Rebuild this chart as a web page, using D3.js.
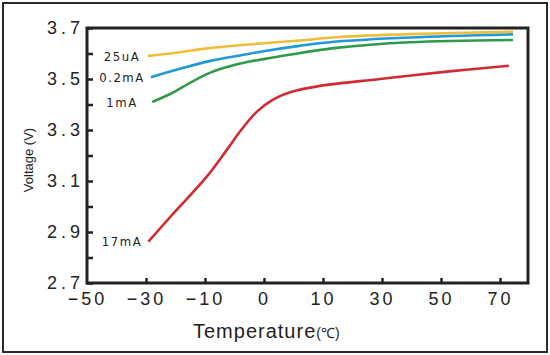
<!DOCTYPE html>
<html><head><meta charset="utf-8">
<script src="https://cdn.jsdelivr.net/npm/d3@7"></script>
<style>body{margin:0;background:#fff}svg{display:block}</style>
</head><body><svg id="c" width="550" height="355"></svg>
<script>
const xTicks = [-50, -30, -10, 0, 10, 30, 50, 70];
const yTicks = [2.7, 2.8, 2.9, 3.0, 3.1, 3.2, 3.3, 3.4, 3.5, 3.6, 3.7];
const yLabels = [2.7, 2.9, 3.1, 3.3, 3.5, 3.7];
const seriesNames = ["25uA", "0.2mA", "1mA", "17mA"];
const seriesColors = ["#f0bd3a", "#1f9ad6", "#2f9a47", "#d22a32"];
const t25uA = [-29.4, -19.1, -8.9, -0.1, 6, 14.5, 39.5, 74.4];
const v25uA = [3.590, 3.604, 3.622, 3.640, 3.651, 3.664, 3.676, 3.685];
const t02mA = [-28.3, -19.1, -8.9, -3.2, -0.1, 6, 14.5, 39.5, 74.4];
const v02mA = [3.507, 3.538, 3.572, 3.596, 3.609, 3.630, 3.647, 3.663, 3.675];
const t1mA = [-27.9, -21.3, -14.5, -8.9, -5.5, -3.2, -0.1, 4, 14.5, 39.5, 74.4];
const v1mA = [3.410, 3.444, 3.489, 3.527, 3.552, 3.565, 3.578, 3.594, 3.622, 3.644, 3.653];
const t17mA = [-29.2, -20.7, -9.7, -6.3, -4.1, -1.2, 1.6, 4.4, 9.5, 29.3, 51.9, 73];
const v17mA = [2.862, 2.973, 3.117, 3.222, 3.293, 3.372, 3.42, 3.448, 3.473, 3.5, 3.529, 3.552];

const seriesT = [t25uA, t02mA, t1mA, t17mA];
const seriesV = [v25uA, v02mA, v1mA, v17mA];

const L = 87, R = 528, T = 28, B = 283, step = 59;
const svg = d3.select("#c");
const x = d3.scaleLinear().domain(xTicks).range(xTicks.map((d, i) => L + i * step));
const y = d3.scaleLinear().domain([2.7, 3.7]).range([B, T]);

// outer border
svg.append("rect").attr("x", 3).attr("y", 3).attr("width", 544).attr("height", 349)
  .attr("fill", "#fff").attr("stroke", "#2a2a2a").attr("stroke-width", 2);

// ticks
const yAxis = d3.axisRight(y).tickValues(yTicks).tickSize(6).tickFormat("");
const gy = svg.append("g").attr("transform", `translate(${L},0)`).call(yAxis);
gy.select(".domain").remove();
gy.selectAll(".tick line").attr("stroke", "#222").attr("stroke-width", 2.5);

const xAxis = d3.axisTop(x).tickValues(xTicks.slice(1)).tickSize(5).tickFormat("");
const gx = svg.append("g").attr("transform", `translate(0,${B})`).call(xAxis);
gx.select(".domain").remove();
gx.selectAll(".tick line").attr("stroke", "#222").attr("stroke-width", 2.5);

// frame
svg.append("rect").attr("x", L).attr("y", T).attr("width", R - L).attr("height", B - T)
  .attr("fill", "none").attr("stroke", "#222").attr("stroke-width", 3);

// y labels
svg.append("g").selectAll("text").data(yLabels).join("text")
  .attr("x", 84).attr("y", d => y(d)).attr("dy", "0.35em")
  .attr("text-anchor", "end")
  .attr("font-family", "Liberation Sans, Arial, sans-serif").attr("font-size", 18)
  .attr("letter-spacing", 4).attr("fill", "#222")
  .text(d => d.toFixed(1));

// x labels
svg.append("g").selectAll("text").data(xTicks).join("text")
  .attr("x", d => x(d) + 0.5).attr("y", 299).attr("dy", "0.35em")
  .attr("text-anchor", "middle")
  .attr("font-family", "Liberation Sans, Arial, sans-serif").attr("font-size", 18)
  .attr("letter-spacing", 3).attr("fill", "#222")
  .text(d => d < 0 ? "\u2212" + Math.abs(d) : String(d));

// axis titles
const xt = svg.append("text").attr("x", 193).attr("y", 338)
  .attr("font-family", "Liberation Sans, Arial, sans-serif").attr("font-size", 20)
  .attr("letter-spacing", 1).attr("fill", "#222");
xt.append("tspan").text("Temperature");
xt.append("tspan").attr("font-size", 14).attr("letter-spacing", 0).text("(\u2103)");

svg.append("text").attr("transform", "translate(33,160) rotate(-90)")
  .attr("text-anchor", "middle")
  .attr("font-family", "Liberation Sans, Arial, sans-serif").attr("font-size", 13)
  .attr("fill", "#222").text("Voltage (V)");

// lines
const line = d3.line().x(d => x(d[0])).y(d => y(d[1])).curve(d3.curveCatmullRom.alpha(0.5));
seriesNames.forEach((name, i) => {
  const pts = seriesT[i].map((t, j) => [t, seriesV[i][j]]);
  svg.append("path").datum(pts).attr("d", line)
    .attr("fill", "none").attr("stroke", seriesColors[i]).attr("stroke-width", 2.6)
    .attr("stroke-linecap", "butt");
  svg.append("text").attr("x", 122).attr("y", y(pts[0][1])).attr("dy", "0.35em")
    .attr("text-anchor", "middle")
    .attr("font-family", "Liberation Sans Narrow, DejaVu Sans Condensed, Arial, sans-serif")
    .attr("font-size", 13).attr("letter-spacing", 1.5).attr("fill", "#222")
    .text(name);
});
</script></body></html>
